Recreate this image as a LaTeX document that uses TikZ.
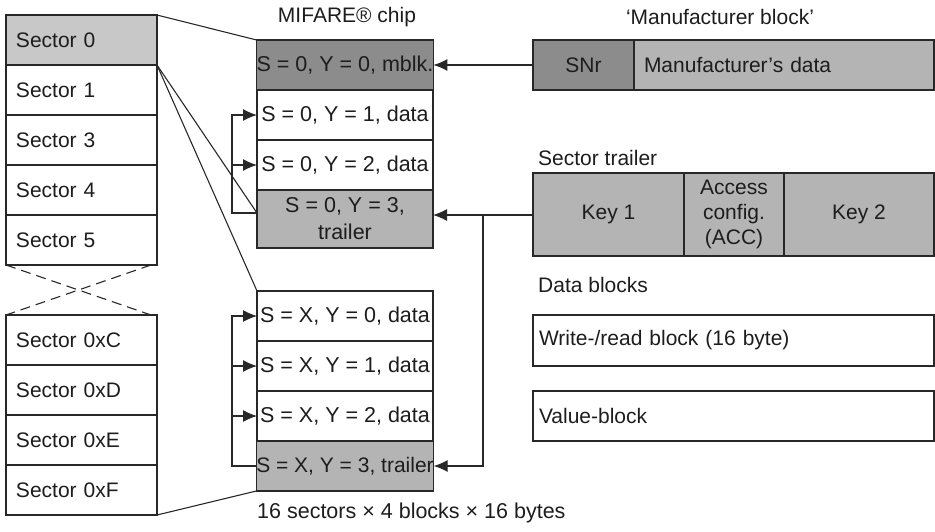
\documentclass[tikz,border=0pt]{standalone}
\usepackage{fontspec}
\setmainfont{Liberation Sans}
\usetikzlibrary{arrows.meta,calc}
\definecolor{txt}{RGB}{30,28,28}
\definecolor{dk}{RGB}{140,140,140}
\definecolor{lt}{RGB}{180,180,180}
\definecolor{szero}{RGB}{200,200,200}
\definecolor{ln}{RGB}{40,40,40}
\begin{document}
\begin{tikzpicture}[x=1pt,y=-1pt,
  every node/.style={font=\fontsize{21}{24}\selectfont, text=txt},
  box/.style={draw=ln, line width=1.2pt, inner sep=0pt, outer sep=0pt},
  sec/.style={box, minimum width=151pt, minimum height=50pt, text width=131pt, inner xsep=10pt, align=left},
  mid/.style={box, minimum width=176pt, minimum height=50pt, align=center, font=\fontsize{21.5}{24}\selectfont},
  lbl/.style={inner sep=0pt},
  conn/.style={draw=ln, line width=1.1pt},
  arr/.style={conn, -{Latex[length=14pt,width=12pt]}},
]
\useasboundingbox (0,0) rectangle (935,531);

% left column
\node[sec, fill=szero] (s0) at (81.5,40) {Sector 0};
\node[sec] (s1) at (81.5,90) {Sector 1};
\node[sec] (s3) at (81.5,140) {Sector 3};
\node[sec] (s4) at (81.5,190) {Sector 4};
\node[sec] (s5) at (81.5,240) {Sector 5};
\node[sec] (sC) at (81.5,340) {Sector 0xC};
\node[sec] (sD) at (81.5,390) {Sector 0xD};
\node[sec] (sE) at (81.5,440) {Sector 0xE};
\node[sec] (sF) at (81.5,490) {Sector 0xF};

\coordinate (dl1) at (6,265);
\coordinate (dr1) at (151,265);
\coordinate (dl2) at (6,315);
\coordinate (dr2) at (151,315);
\draw[conn, dash pattern=on 10pt off 6pt] (dl1) -- (dr2);
\draw[conn, dash pattern=on 10pt off 6pt] (dr1) -- (dl2);

% middle column
\node[lbl] (chip) at (347,17) {MIFARE® chip};
\node[mid, fill=dk] (m0) at (345,65) {S = 0, Y = 0, mblk.};
\node[mid] (m1) at (345,115) {S = 0, Y = 1, data};
\node[mid] (m2) at (345,165) {S = 0, Y = 2, data};
\node[mid, fill=lt, minimum height=58pt] (m3) at (345,219) {S = 0, Y = 3,\\[3pt] trailer};

\node[mid] (n0) at (345,316) {S = X, Y = 0, data};
\node[mid] (n1) at (345,366) {S = X, Y = 1, data};
\node[mid] (n2) at (345,416) {S = X, Y = 2, data};
\node[mid, fill=lt, font=\fontsize{21}{24}\selectfont] (n3) at (345,466) {S = X, Y = 3, trailer};

\node[lbl, anchor=west, font=\fontsize{21.5}{24}\selectfont] (cap) at (257,513) {16 sectors × 4 blocks × 16 bytes};

% connectors left -> middle
\coordinate (t0) at (257,213);
\draw[conn] (s0.north east) -- (m0.north west);
\draw[conn] (s0.south east) -- (t0);
\draw[conn] (s0.south east) -- (n0.north west);
\draw[conn] (sF.south east) -- (n3.south west);

% loops
\coordinate (la) at (232,213);
\coordinate (lb) at (232,165);
\draw[arr] (t0) -- (la) |- (m1.west);
\draw[arr] (lb) -- (m2.west);
\coordinate (lc) at (232,466);
\coordinate (ld) at (232,366);
\coordinate (le) at (232,416);
\draw[arr] (n3.west) -- (lc) |- (n0.west);
\draw[arr] (ld) -- (n1.west);
\draw[arr] (le) -- (n2.west);

% right side
\node[lbl] (mbt) at (720,17) {‘Manufacturer block’};
\node[box, fill=lt, minimum width=300pt, minimum height=50pt, text width=280pt, inner xsep=10pt, align=left] (mfd) at (784,65) {Manufacturer’s data};
\node[box, fill=dk, minimum width=101pt, minimum height=50pt] (snr) at (583.5,65) {SNr};

\node[lbl, anchor=west] (strl) at (538,158) {Sector trailer};
\node[box, fill=lt, minimum width=151pt, minimum height=83pt] (k1) at (608.5,214.5) {Key 1};
\node[box, fill=lt, minimum width=100pt, minimum height=83pt, align=center, font=\fontsize{21}{25}\selectfont] (acc) at (734,214.5) {Access\\config.\\(ACC)};
\node[box, fill=lt, minimum width=150pt, minimum height=83pt] (k2) at (859,214.5) {Key 2};

\node[lbl, anchor=west] (dbl) at (538,285) {Data blocks};
\node[box, minimum width=401pt, minimum height=51pt, text width=389pt, inner xsep=6pt, align=left] (wr) at (733.5,340.5) {Write-/read block (16 byte)};
\node[box, minimum width=401pt, minimum height=50pt, text width=389pt, inner xsep=6pt, align=left] (vb) at (733.5,416) {Value-block};

% right -> middle arrows
\draw[arr] (snr.west) -- (m0.east);
\coordinate (j) at (483,215);
\draw[arr] (k1.west |- j) -- (m3.east |- j);
\draw[arr] (j) |- (n3.east);
\end{tikzpicture}
\end{document}
